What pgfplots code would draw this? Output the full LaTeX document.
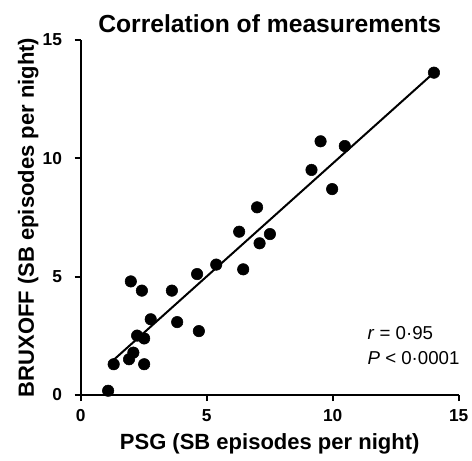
\documentclass[border=0pt]{standalone}
\usepackage{fontspec}
\setmainfont{Liberation Sans}
\usepackage{pgfplots}
\pgfplotsset{compat=1.18}
\begin{document}
\begin{tikzpicture}
\useasboundingbox (-60.5pt,-49.5pt) rectangle (293.5pt,296.25pt);
\begin{axis}[
  scale only axis,
  width=283.5pt, height=266.25pt,
  xmin=0, xmax=15, ymin=0, ymax=15,
  axis x line=bottom, axis y line=left,
  axis line style={-, line width=1.5pt},
  tick align=outside,
  major tick length=4.5pt,
  tick style={line width=1.5pt, black},
  xtick={0,5,10,15}, ytick={0,5,10,15},
  /pgf/number format/assume math mode=true,
  tick label style={font=\bfseries\fontsize{13}{13}\selectfont},
  xticklabel style={yshift=-3pt},
  yticklabel style={xshift=-6pt},
  xlabel={PSG (SB episodes per night)},
  ylabel={BRUXOFF (SB episodes per night)},
  label style={font=\bfseries\fontsize{16.5}{17}\selectfont},
  xlabel style={at={(axis description cs:0.5,0)}, anchor=base, yshift=-40.5pt},
  ylabel style={at={(axis description cs:0,0.5)}, anchor=base, yshift=35pt},
  clip=false,
]
\addplot[only marks, mark=*, mark size=4.3pt, black] coordinates {
(14.02,13.62) (9.52,10.72) (10.48,10.52) (9.16,9.51) (9.98,8.70)
(7.00,7.93) (6.29,6.90) (7.51,6.80) (7.10,6.41) (5.38,5.51)
(6.45,5.31) (4.62,5.11) (1.99,4.80) (2.43,4.41) (3.62,4.41)
(2.78,3.20) (3.83,3.08) (4.69,2.70) (2.24,2.51) (2.52,2.39)
(2.09,1.79) (1.92,1.51) (1.31,1.30) (2.52,1.30) (1.09,0.18)
};
\addplot[line width=1.5pt, black] coordinates {(1.2,1.38) (14.0,13.6)};
\node[anchor=base west, font=\fontsize{14}{14}\selectfont] at (axis cs:11.2,2.35) {\textit{r} = 0·95};
\node[anchor=base west, font=\fontsize{14}{14}\selectfont] at (axis cs:11.2,1.27) {\textit{P} < 0·0001};
\node[anchor=base, font=\bfseries\fontsize{18.5}{19}\selectfont] at (rel axis cs:0.5,1) [yshift=6pt] {Correlation of measurements};
\end{axis}
\end{tikzpicture}
\end{document}
